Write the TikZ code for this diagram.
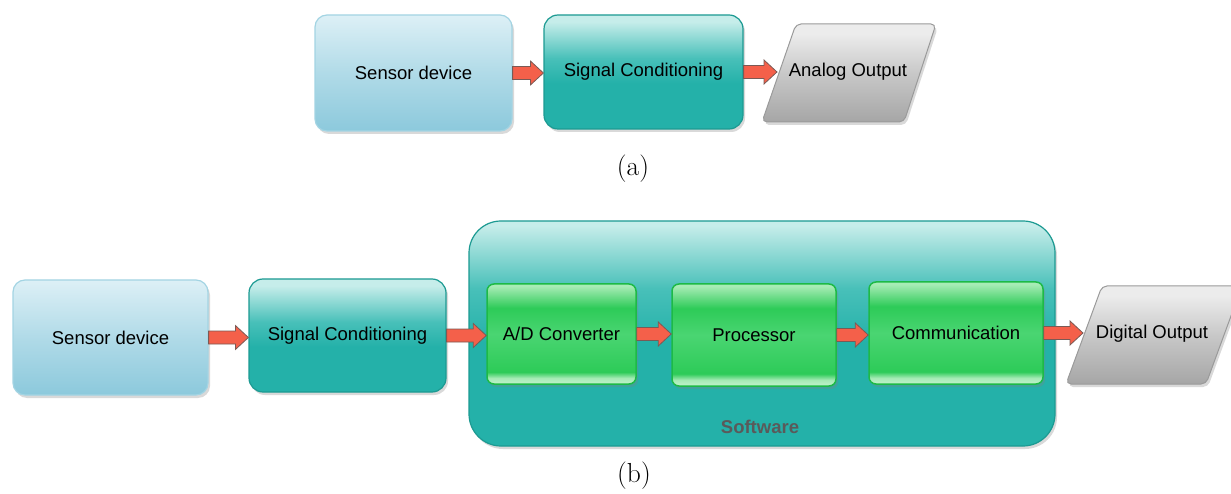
\documentclass[tikz,border=0pt]{standalone}
\usepackage{fontspec}
\newfontfamily\arial{Liberation Sans}
\usetikzlibrary{shadows,calc}
\definecolor{sblueT}{HTML}{DDF0F6}
\definecolor{sblueB}{HTML}{8CC9DC}
\definecolor{sblueD}{HTML}{A3D4E3}
\definecolor{tealT}{HTML}{C6EDEA}
\definecolor{tealM}{HTML}{48C0B9}
\definecolor{tealB}{HTML}{24B1A9}
\definecolor{tealD}{HTML}{1C9A92}
\definecolor{grnT}{HTML}{A8ECB6}
\definecolor{grnM}{HTML}{2DCB58}
\definecolor{grnC}{HTML}{4AD572}
\definecolor{grnL}{HTML}{C2F3CC}
\definecolor{grnD}{HTML}{1DBA46}
\definecolor{grayT}{HTML}{ECECEC}
\definecolor{grayM}{HTML}{C8C8C8}
\definecolor{grayB}{HTML}{A6A6A6}
\definecolor{grayD}{HTML}{9A9A9A}
\definecolor{arrfill}{HTML}{F4604A}
\definecolor{arrline}{HTML}{7A5A55}
\definecolor{swtext}{HTML}{5A5A5A}
\pgfdeclareverticalshading{tealgloss}{100bp}{color(0bp)=(tealB); color(25bp)=(tealB); color(45bp)=(tealB); color(56bp)=(tealM); color(72bp)=(tealT); color(75bp)=(tealT); color(100bp)=(tealT)}
\pgfdeclareverticalshading{swgloss}{100bp}{color(0bp)=(tealB); color(25bp)=(tealB); color(48bp)=(tealB); color(60bp)=(tealM); color(74bp)=(tealT); color(75bp)=(tealT); color(100bp)=(tealT)}
\pgfdeclareverticalshading{grngloss}{100bp}{color(0bp)=(grnL); color(25bp)=(grnL); color(28bp)=(grnL!80!grnM); color(31bp)=(grnM); color(50bp)=(grnC); color(63bp)=(grnM); color(74bp)=(grnT); color(75bp)=(grnT); color(100bp)=(grnT)}
\pgfdeclareverticalshading{graygloss}{100bp}{color(0bp)=(grayB); color(25bp)=(grayB); color(50bp)=(grayM); color(70bp)=(grayT); color(75bp)=(grayT); color(100bp)=(grayT)}
\tikzset{
  shadowed/.style={drop shadow={opacity=0.3, shadow xshift=2pt, shadow yshift=-3pt}},
  boxtext/.style={font=\arial\fontsize{18.5}{22}\selectfont, text=black, align=center},
  sensorbox/.style={boxtext, shadowed, rounded corners=12pt, draw=sblueD, line width=1.2pt, top color=sblueT, bottom color=sblueB, middle color=sblueB!55!sblueT},
  condbox/.style={boxtext, shadowed, rounded corners=14pt, draw=tealD, line width=1.2pt, shading=tealgloss},
  swbox/.style={shadowed, rounded corners=32pt, draw=tealD, line width=1.2pt, shading=swgloss},
  grnbox/.style={boxtext, shadowed, rounded corners=7pt, draw=grnD, line width=1.5pt, shading=grngloss},
  outshape/.style={shadowed, rounded corners=5pt, draw=grayD, line width=1pt, shading=graygloss},
  sublabel/.style={font=\fontsize{27.5}{32}\selectfont, text=black},
  blockarr/.style={draw=arrline, line width=0.8pt, fill=arrfill, line join=miter,
    to path={let \p1=(\tikztostart), \p2=(\tikztotarget) in
      (\x1,\y1-6.5) -- (\x2-13,\y1-6.5) -- (\x2-13,\y1-12) -- (\x2,\y1) -- (\x2-13,\y1+12) -- (\x2-13,\y1+6.5) -- (\x1,\y1+6.5) -- cycle}},
}
\begin{document}
\begin{tikzpicture}[x=1pt,y=-1pt]
\useasboundingbox (0,0) rectangle (1231,494);
% ---------- (a) ----------
\node[sensorbox, minimum width=197pt, minimum height=116pt] (sa) at (413.5,73) {Sensor device};
\node[condbox, minimum width=199pt, minimum height=114pt] (ca) at (643.5,72) {Signal Conditioning};
\path[outshape] (796,24) -- (936,24) -- (904,122) -- (762,122) -- cycle;
\node[boxtext] (ao) at (848,72) {Analog Output};
\coordinate (aoin) at (777,72);
\draw[blockarr] (sa.east) to (ca.west);
\draw[blockarr] (ca.east) to (aoin);
\node[sublabel] (la) at (633,169) {(a)};
% ---------- (b) ----------
\node[swbox, minimum width=586pt, minimum height=225pt] (sw) at (762,333.5) {};
\node[font=\arial\bfseries\fontsize{18.5}{22}\selectfont, text=swtext] (swl) at (760,427) {Software};
\node[sensorbox, minimum width=195pt, minimum height=115pt] (sb) at (110.5,337.5) {Sensor device};
\node[condbox, minimum width=197pt, minimum height=113pt] (cb) at (347.5,335.5) {Signal Conditioning};
\node[grnbox, minimum width=149pt, minimum height=100pt] (ad) at (561.5,334) {A/D Converter};
\node[grnbox, minimum width=164pt, minimum height=102pt] (pr) at (754,335) {Processor};
\node[grnbox, minimum width=174pt, minimum height=102pt] (cm) at (956,333) {Communication};
\path[outshape] (1102,286) -- (1242,286) -- (1206,384) -- (1066,384) -- cycle;
\node[boxtext] (dout) at (1152,334) {Digital Output};
\coordinate (doin) at (1083,335);
\draw[blockarr] (sb.east) to (cb.west);
\draw[blockarr] (cb.east) to (ad.west);
\draw[blockarr] (ad.east) to (pr.west);
\draw[blockarr] (pr.east) to (cm.west);
\draw[blockarr] (cm.east) to (doin);
\node[sublabel] (lb) at (634,476) {(b)};
\end{tikzpicture}
\end{document}
